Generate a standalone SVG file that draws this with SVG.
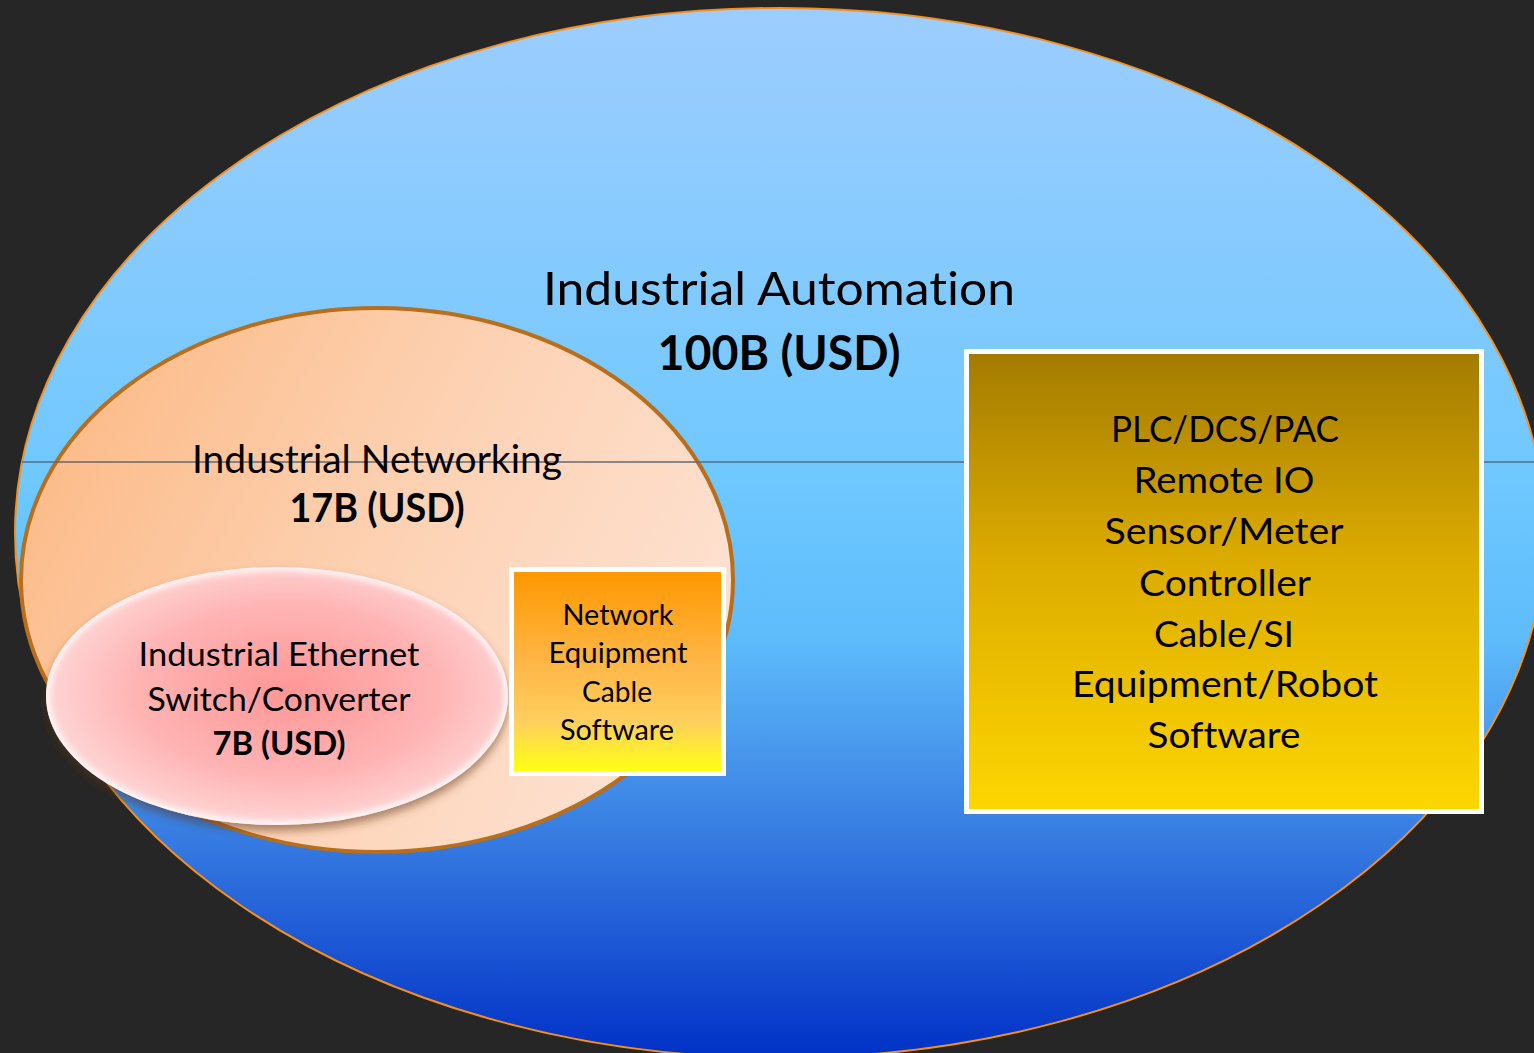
<svg xmlns="http://www.w3.org/2000/svg" width="1534" height="1053" viewBox="0 0 1534 1053">
<defs>
<linearGradient id="gBlue" x1="0" y1="0" x2="0" y2="1">
<stop offset="0" stop-color="#9dcdfe"/>
<stop offset="0.45" stop-color="#6fc8ff"/>
<stop offset="0.6" stop-color="#5ebcfb"/>
<stop offset="0.8" stop-color="#3478e0"/>
<stop offset="1" stop-color="#0030c6"/>
</linearGradient>
<linearGradient id="gPeach" x1="0" y1="0.3" x2="1" y2="0.7">
<stop offset="0" stop-color="#fcbb88"/>
<stop offset="0.5" stop-color="#fdd2b4"/>
<stop offset="1" stop-color="#fde3d4"/>
</linearGradient>
<radialGradient id="gPink" cx="0.52" cy="0.48" r="0.55">
<stop offset="0" stop-color="#ff9696"/>
<stop offset="0.6" stop-color="#ffb4b4"/>
<stop offset="1" stop-color="#ffdada"/>
</radialGradient>
<linearGradient id="gOrange" x1="0" y1="0" x2="0" y2="1">
<stop offset="0" stop-color="#ff9800"/>
<stop offset="0.45" stop-color="#ffb646"/>
<stop offset="0.75" stop-color="#ffcf5e"/>
<stop offset="1" stop-color="#ffff14"/>
</linearGradient>
<linearGradient id="gGold" x1="0" y1="0" x2="0" y2="1">
<stop offset="0" stop-color="#a47b00"/>
<stop offset="0.45" stop-color="#dcab00"/>
<stop offset="1" stop-color="#fdd600"/>
</linearGradient>
<filter id="fShadow" x="-10%" y="-10%" width="120%" height="130%">
<feDropShadow dx="0" dy="6" stdDeviation="4" flood-color="#5a3010" flood-opacity="0.5"/>
</filter>
<filter id="fGlow" x="-10%" y="-10%" width="120%" height="120%">
<feGaussianBlur stdDeviation="3"/>
</filter>
<clipPath id="cEth">
<ellipse cx="277" cy="696" rx="231" ry="129"/>
</clipPath>
<style>
text{font-family:Lato,"Open Sans","Liberation Sans",sans-serif;fill:#000;text-anchor:middle;font-variant-ligatures:none;font-feature-settings:"liga" 0,"dlig" 0,"clig" 0}
.b{font-weight:bold}
</style>
</defs>
<rect x="0" y="0" width="1534" height="1053" fill="#262626"/>
<g id="industrial-automation">
<ellipse cx="780" cy="533" rx="765" ry="525" fill="url(#gBlue)" stroke="#f39020" stroke-width="2"/>
<text x="779" y="305" font-size="47" textLength="472" lengthAdjust="spacingAndGlyphs">Industrial Automation</text>
<text x="779" y="370" font-size="48" class="b" textLength="243" lengthAdjust="spacingAndGlyphs">100B (USD)</text>
</g>
<g id="industrial-networking">
<ellipse cx="377" cy="580" rx="356" ry="272" fill="url(#gPeach)" stroke="#b86e1a" stroke-width="4"/>
</g>
<g id="guide-line">
<line x1="22" y1="462" x2="1534" y2="462" stroke="#5b6b7b" stroke-width="1.5"/>
</g>
<g id="industrial-networking-label">
<text x="377" y="473" font-size="39" textLength="370" lengthAdjust="spacingAndGlyphs">Industrial Networking</text>
<text x="377" y="522" font-size="40" class="b" textLength="175" lengthAdjust="spacingAndGlyphs">17B (USD)</text>
</g>
<g id="industrial-ethernet">
<ellipse cx="277" cy="696" rx="231" ry="129" fill="url(#gPink)" filter="url(#fShadow)"/>
<g clip-path="url(#cEth)">
<ellipse cx="277" cy="696" rx="231" ry="129" fill="none" stroke="#ffffff" stroke-opacity="0.85" stroke-width="8" filter="url(#fGlow)"/>
</g>
<text x="279" y="666" font-size="33" textLength="281" lengthAdjust="spacingAndGlyphs">Industrial Ethernet</text>
<text x="279" y="711" font-size="33" textLength="263" lengthAdjust="spacingAndGlyphs">Switch/Converter</text>
<text x="279" y="755" font-size="33" class="b" textLength="133" lengthAdjust="spacingAndGlyphs">7B (USD)</text>
</g>
<g id="network-equipment">
<rect x="509" y="567" width="217" height="209" fill="#ffffff"/>
<rect x="514" y="572" width="207" height="199" fill="url(#gOrange)"/>
<text x="618" y="625" font-size="28" textLength="111" lengthAdjust="spacingAndGlyphs">Network</text>
<text x="618" y="663" font-size="28" textLength="139" lengthAdjust="spacingAndGlyphs">Equipment</text>
<text x="617" y="702" font-size="28" textLength="70" lengthAdjust="spacingAndGlyphs">Cable</text>
<text x="617" y="740" font-size="28" textLength="114" lengthAdjust="spacingAndGlyphs">Software</text>
</g>
<g id="automation-products">
<rect x="964" y="349" width="520" height="465" fill="#ffffff"/>
<rect x="969" y="354" width="510" height="455" fill="url(#gGold)"/>
<text x="1225" y="442" font-size="36" textLength="228" lengthAdjust="spacingAndGlyphs">PLC/DCS/PAC</text>
<text x="1224" y="493" font-size="36" textLength="181" lengthAdjust="spacingAndGlyphs">Remote IO</text>
<text x="1224" y="544" font-size="36" textLength="239" lengthAdjust="spacingAndGlyphs">Sensor/Meter</text>
<text x="1225" y="596" font-size="36" textLength="172" lengthAdjust="spacingAndGlyphs">Controller</text>
<text x="1224" y="647" font-size="36" textLength="140" lengthAdjust="spacingAndGlyphs">Cable/SI</text>
<text x="1225" y="697" font-size="36" textLength="306" lengthAdjust="spacingAndGlyphs">Equipment/Robot</text>
<text x="1224" y="748" font-size="36" textLength="153" lengthAdjust="spacingAndGlyphs">Software</text>
</g>
</svg>
